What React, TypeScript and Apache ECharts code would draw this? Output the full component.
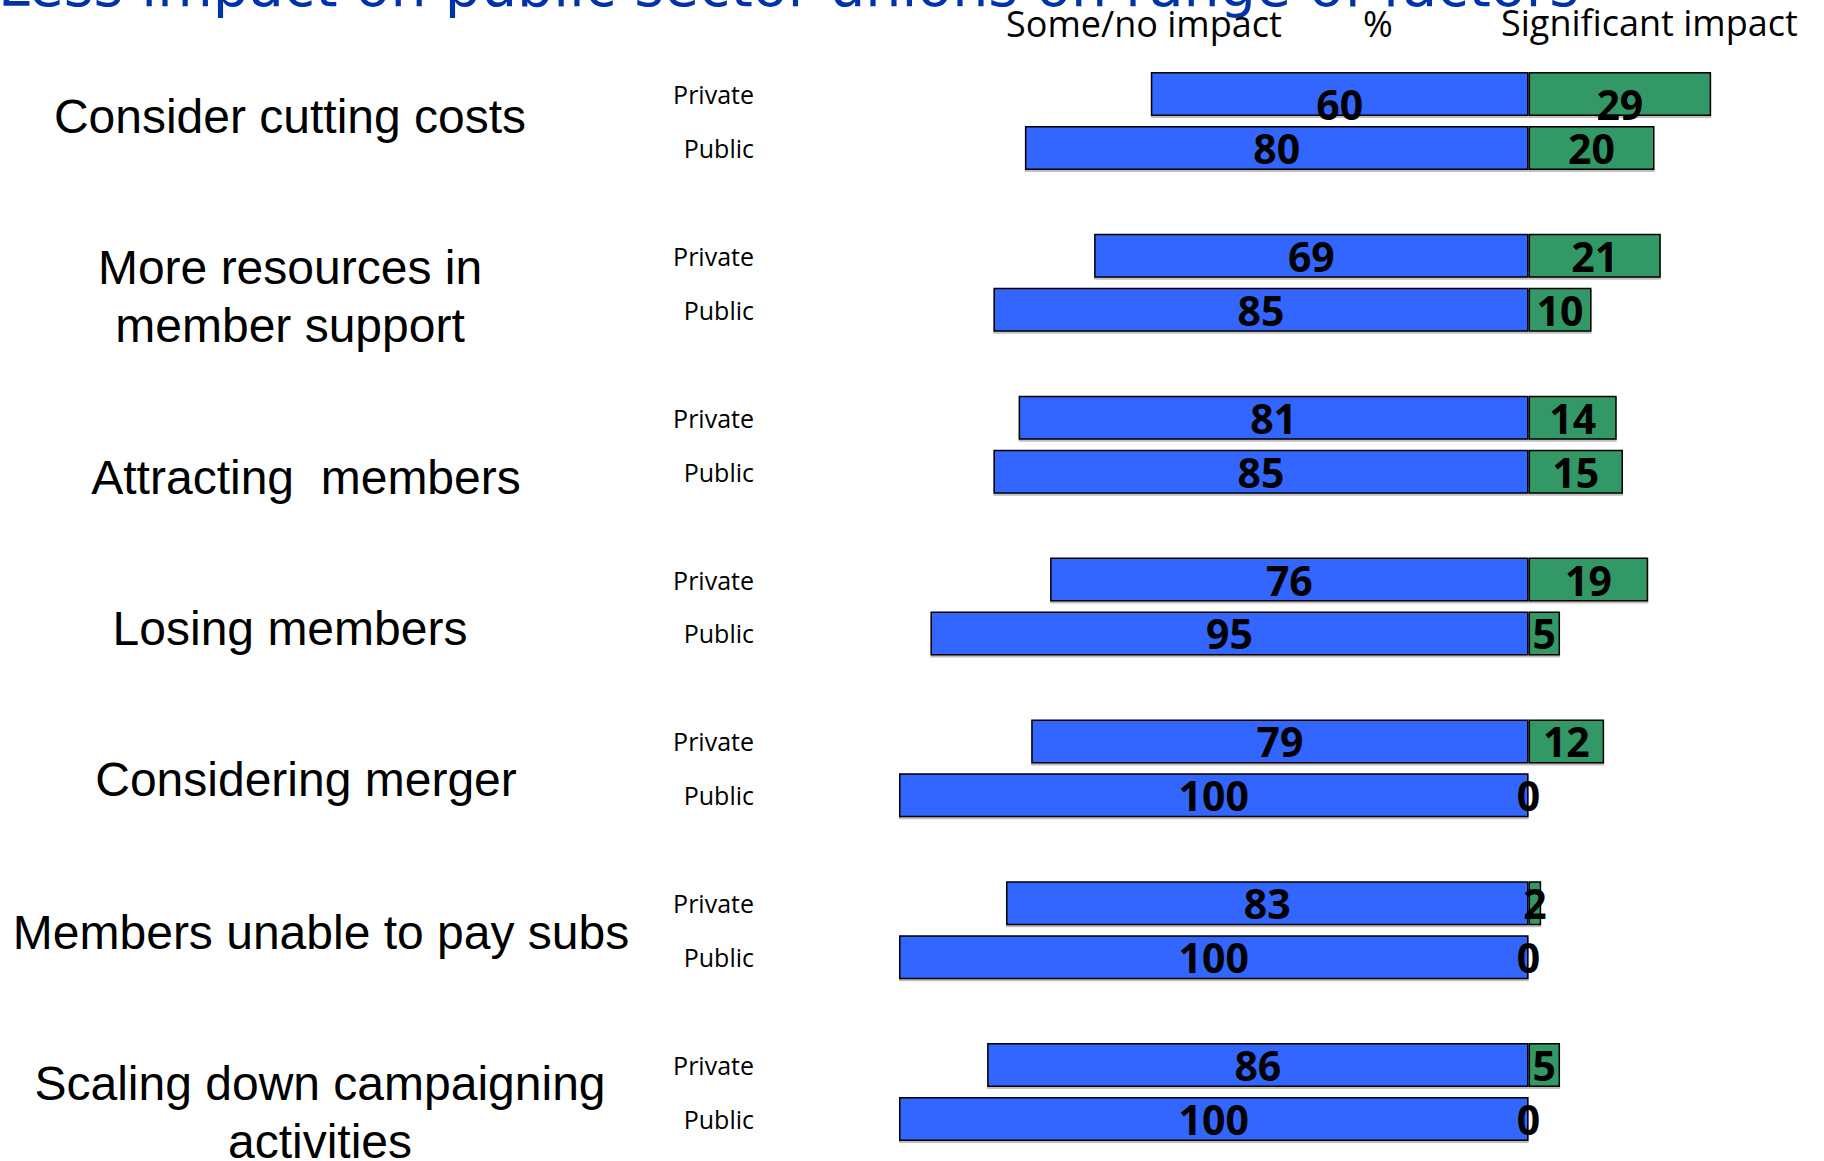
import React, { useEffect, useRef } from "react";
import * as echarts from "echarts";

const title = "Less impact on public sector unions on range of factors";
const headerLabels = ["Some/no impact", "%", "Significant impact"];
const groups = [
  "Consider cutting costs",
  "More resources in\nmember support",
  "Attracting  members",
  "Losing members",
  "Considering merger",
  "Members unable to pay subs",
  "Scaling down campaigning\nactivities",
];
const sectors = ["Private", "Public"];
const privateSome = [60, 69, 81, 76, 79, 83, 86];
const privateSig = [29, 21, 14, 19, 12, 2, 5];
const publicSome = [80, 85, 85, 95, 100, 100, 100];
const publicSig = [20, 10, 15, 5, 0, 0, 0];

// layout (pixels) for the free-standing texts
const groupLabelPos = [
  [290, 116],
  [290, 296],
  [306, 477],
  [290, 628],
  [306, 779],
  [321, 932],
  [320, 1112],
];
const headerPos = [
  [1006, 23],
  [1363, 23],
  [1501, 22],
];

const BLUE = "#3366FF";
const GREEN = "#339966";

export default function App() {
  const ref = useRef<HTMLDivElement>(null);
  useEffect(() => {
    if (!ref.current) return;
    const chart = echarts.init(ref.current, null, { renderer: "svg" });

    const categories: string[] = [];
    const someData: any[] = [];
    const sigData: any[] = [];
    groups.forEach((_, i) => {
      const pairs = [
        [privateSome[i], privateSig[i]],
        [publicSome[i], publicSig[i]],
      ];
      sectors.forEach((s, j) => {
        categories.push(s);
        const off = i === 0 && j === 0 ? [0, 10] : [0, 0];
        someData.push({ value: -pairs[j][0], label: { offset: off } });
        sigData.push({ value: pairs[j][1], label: { offset: off } });
      });
      if (i < groups.length - 1) {
        categories.push("");
        someData.push(null);
        sigData.push(null);
      }
    });

    const barLabel = {
      show: true,
      position: "inside",
      color: "#000",
      fontFamily: "Open Sans",
      fontWeight: "bold",
      fontSize: 41,
      formatter: (p: any) => String(Math.abs(p.value)),
    };
    const barItem = {
      borderColor: "#000",
      borderWidth: 1.5,
      shadowColor: "rgba(0,0,0,0.25)",
      shadowOffsetY: 2,
      shadowBlur: 0,
    };

    const graphic: any[] = [
      {
        type: "text",
        x: -2,
        y: -14,
        style: {
          text: title,
          fill: "#0033aa",
          font: "57px 'DejaVu Sans'",
          textAlign: "left",
          textVerticalAlign: "middle",
        },
      },
      ...headerLabels.map((t, i) => ({
        type: "text",
        x: headerPos[i][0],
        y: headerPos[i][1],
        style: {
          text: t,
          fill: "#000",
          font: "36px 'Open Sans'",
          textAlign: "left",
          textVerticalAlign: "middle",
        },
      })),
      ...groups.map((g, i) => ({
        type: "text",
        x: groupLabelPos[i][0],
        y: groupLabelPos[i][1],
        style: {
          text: g,
          fill: "#000",
          font: "48px 'Liberation Sans'",
          lineHeight: 58,
          textAlign: "center",
          textVerticalAlign: "middle",
        },
      })),
    ];

    chart.setOption({
      animation: false,
      grid: { left: 899, right: 43.6, top: 67, bottom: 15, containLabel: false },
      xAxis: {
        type: "value",
        min: -100,
        max: 40,
        show: false,
        splitLine: { show: false },
      },
      yAxis: {
        type: "category",
        inverse: true,
        data: categories,
        axisLine: { show: false },
        axisTick: { show: false },
        splitLine: { show: false },
        axisLabel: {
          interval: 0,
          margin: 145,
          color: "#000",
          fontFamily: "Open Sans",
          fontSize: 25,
        },
      },
      series: [
        {
          name: "Some/no impact",
          type: "bar",
          barWidth: 44,
          barGap: "-100%",
          data: someData,
          itemStyle: { color: BLUE, ...barItem },
          label: barLabel,
        },
        {
          name: "Significant impact",
          type: "bar",
          barWidth: 44,
          barGap: "-100%",
          data: sigData,
          itemStyle: { color: GREEN, ...barItem },
          label: barLabel,
        },
      ],
      graphic,
    });
    return () => chart.dispose();
  }, []);
  return (
    <div
      ref={ref}
      style={{ position: "absolute", left: 0, top: 0, width: 1824, height: 1161, background: "#fff" }}
    />
  );
}
